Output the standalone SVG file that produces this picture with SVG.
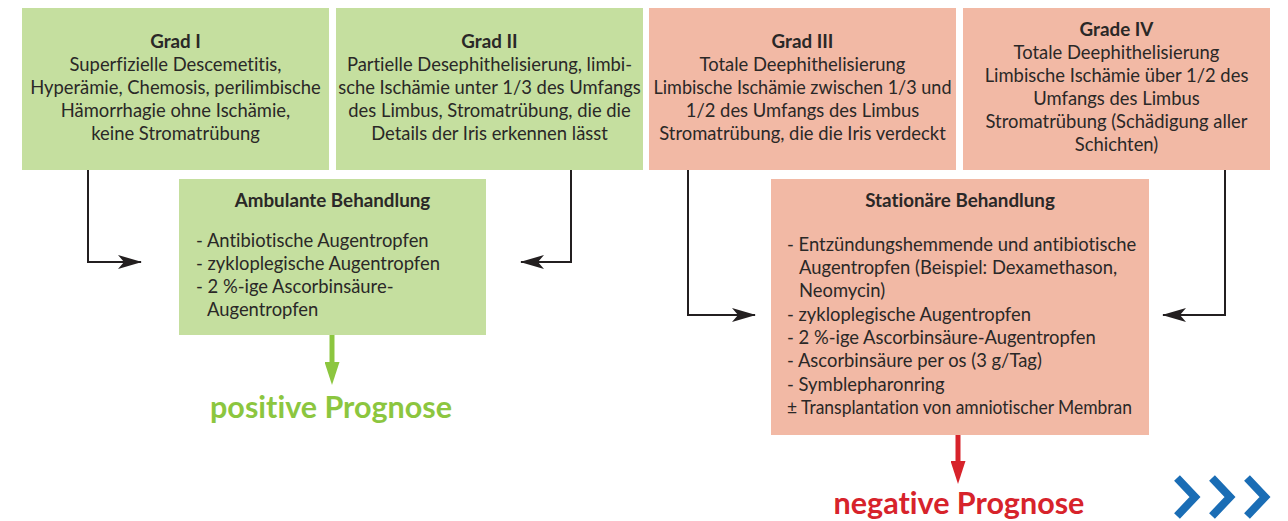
<svg xmlns="http://www.w3.org/2000/svg" width="1288" height="521" viewBox="0 0 1288 521">
<style>
  .g { fill: #c5df9f; }
  .r { fill: #f2b9a5; }
  text { font-family: Lato, "Open Sans", "Liberation Sans", sans-serif; font-size: 18.4px; fill: #2a2827; font-variant-ligatures: none; }
  .c { text-anchor: middle; }
  .b { font-weight: bold; font-size: 18.8px; }
  .conn { fill: none; stroke: #231f20; stroke-width: 2; }
  .big { font-size: 30.5px; font-weight: bold; text-anchor: middle; }
</style>
<defs>
  <marker id="ah" viewBox="0 0 24 14" refX="23" refY="7" markerWidth="24" markerHeight="14" markerUnits="userSpaceOnUse" orient="auto">
    <path d="M0,0 L24,7 L0,14 L6,7 Z" fill="#231f20"/>
  </marker>
  <marker id="gh" viewBox="0 0 23 15" refX="2" refY="7.5" markerWidth="23" markerHeight="15" markerUnits="userSpaceOnUse" orient="auto">
    <path d="M0,0 L23,7.5 L0,15 Z" fill="#8cc63f"/>
  </marker>
  <marker id="rh" viewBox="0 0 23 15" refX="2" refY="7.5" markerWidth="23" markerHeight="15" markerUnits="userSpaceOnUse" orient="auto">
    <path d="M0,0 L23,7.5 L0,15 Z" fill="#d7232b"/>
  </marker>
</defs>

<g id="grad1">
  <rect class="g" x="22" y="8" width="307" height="162"/>
  <text class="c b" x="175.5" y="48">Grad I</text>
  <text class="c" x="175.5" y="71">Superfizielle Descemetitis,</text>
  <text class="c" x="175.5" y="94">Hyperämie, Chemosis, perilimbische</text>
  <text class="c" x="175.5" y="117">Hämorrhagie ohne Ischämie,</text>
  <text class="c" x="175.5" y="140">keine Stromatrübung</text>
</g>

<g id="grad2">
  <rect class="g" x="336" y="8" width="307" height="162"/>
  <text class="c b" x="489.5" y="48">Grad II</text>
  <text class="c" x="489.5" y="71">Partielle Desephithelisierung, limbi-</text>
  <text class="c" x="489.5" y="94">sche Ischämie unter 1/3 des Umfangs</text>
  <text class="c" x="489.5" y="117">des Limbus, Stromatrübung, die die</text>
  <text class="c" x="489.5" y="140">Details der Iris erkennen lässt</text>
</g>

<g id="grad3">
  <rect class="r" x="649" y="8" width="307" height="162"/>
  <text class="c b" x="802.5" y="48">Grad III</text>
  <text class="c" x="802.5" y="71">Totale Deephithelisierung</text>
  <text class="c" x="802.5" y="94" textLength="298" lengthAdjust="spacingAndGlyphs">Limbische Ischämie zwischen 1/3 und</text>
  <text class="c" x="802.5" y="117">1/2 des Umfangs des Limbus</text>
  <text class="c" x="802.5" y="140">Stromatrübung, die die Iris verdeckt</text>
</g>

<g id="grad4">
  <rect class="r" x="963" y="8" width="307" height="162"/>
  <text class="c b" x="1116.5" y="36">Grade IV</text>
  <text class="c" x="1116.5" y="59">Totale Deephithelisierung</text>
  <text class="c" x="1116.5" y="82">Limbische Ischämie über 1/2 des</text>
  <text class="c" x="1116.5" y="105">Umfangs des Limbus</text>
  <text class="c" x="1116.5" y="128">Stromatrübung (Schädigung aller</text>
  <text class="c" x="1116.5" y="151">Schichten)</text>
</g>

<g id="ambulant">
  <rect class="g" x="179" y="179" width="307" height="156"/>
  <text class="c b" x="332.5" y="207">Ambulante Behandlung</text>
  <text x="196" y="247">- Antibiotische Augentropfen</text>
  <text x="196" y="270">- zykloplegische Augentropfen</text>
  <text x="196" y="293">- 2 %-ige Ascorbinsäure-</text>
  <text x="207" y="316">Augentropfen</text>
</g>

<g id="stationaer">
  <rect class="r" x="771" y="179" width="378" height="256"/>
  <text class="c b" x="960" y="207">Stationäre Behandlung</text>
  <text x="787" y="251">- Entzündungshemmende und antibiotische</text>
  <text x="799" y="274">Augentropfen (Beispiel: Dexamethason,</text>
  <text x="799" y="297">Neomycin)</text>
  <text x="787" y="321">- zykloplegische Augentropfen</text>
  <text x="787" y="344">- 2 %-ige Ascorbinsäure-Augentropfen</text>
  <text x="787" y="367">- Ascorbinsäure per os (3 g/Tag)</text>
  <text x="787" y="391">- Symblepharonring</text>
  <text x="787" y="414" textLength="345" lengthAdjust="spacingAndGlyphs">± Transplantation von amniotischer Membran</text>
</g>

<g id="connectors">
  <path class="conn" d="M88,170 V262 H141" marker-end="url(#ah)"/>
  <path class="conn" d="M571,170 V262 H521" marker-end="url(#ah)"/>
  <path class="conn" d="M688,170 V315 H755" marker-end="url(#ah)"/>
  <path class="conn" d="M1225,170 V315 H1163" marker-end="url(#ah)"/>
  <path d="M332,335 V364" stroke="#8cc63f" stroke-width="5" fill="none" marker-end="url(#gh)"/>
  <path d="M958,435 V463" stroke="#d7232b" stroke-width="5" fill="none" marker-end="url(#rh)"/>
</g>

<g id="positive">
  <text class="big" x="331" y="418" style="fill:#8cc63f">positive Prognose</text>
</g>
<g id="negative">
  <text class="big" x="959" y="514" style="fill:#d7232b">negative Prognose</text>
</g>

<g id="chevrons" fill="none" stroke="#1a6db5" stroke-width="8" stroke-linejoin="miter">
  <polyline points="1177,478 1195,497 1177,516"/>
  <polyline points="1212,478 1230,497 1212,516"/>
  <polyline points="1247,478 1265,497 1247,516"/>
</g>
</svg>
